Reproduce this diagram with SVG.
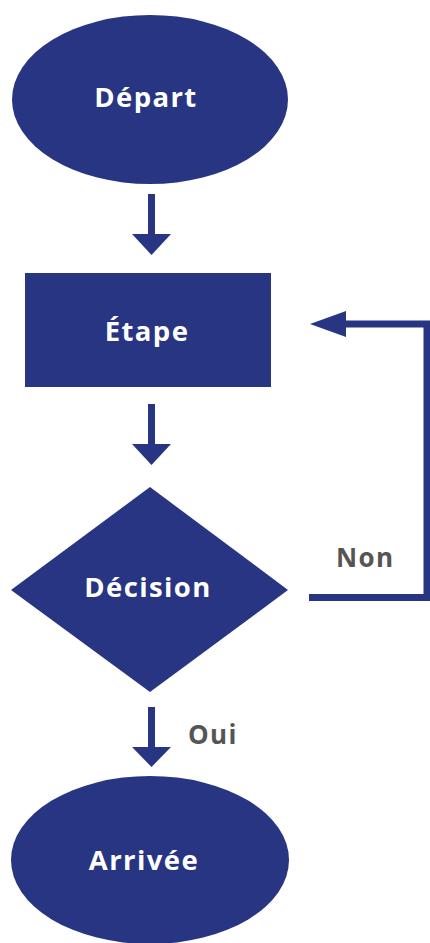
<svg xmlns="http://www.w3.org/2000/svg" width="430" height="943" viewBox="0 0 430 943">
<defs>
<style>
.n{fill:#283583}
.t{fill:#fff;font-family:"Open Sans","Liberation Sans",sans-serif;font-weight:700;font-size:27.5px;text-anchor:middle;letter-spacing:1.4px}
.l{fill:#555;font-family:"Open Sans","Liberation Sans",sans-serif;font-weight:700;font-size:26px;letter-spacing:1.4px}
.c{stroke:#283583;fill:none;stroke-width:7}
.h{fill:#283583}
</style>
</defs>
<rect width="430" height="943" fill="#fff"/>
<g id="depart"><ellipse class="n" cx="150" cy="99.5" rx="138" ry="84.5"/><text class="t" x="146" y="107">Départ</text></g>
<g id="etape"><rect class="n" x="25" y="273" width="246" height="114"/><text class="t" x="147" y="341">Étape</text></g>
<g id="decision"><polygon class="n" points="150,487 288,590 150,692 11,590"/><text class="t" x="148" y="597">Décision</text></g>
<g id="arrivee"><ellipse class="n" cx="150" cy="860" rx="139" ry="84"/><text class="t" x="144" y="870">Arrivée</text></g>
<g id="connectors">
<line class="c" x1="151.5" y1="194" x2="151.5" y2="236"/><polygon class="h" points="132,234 171,234 151.5,255"/>
<line class="c" x1="151.5" y1="404" x2="151.5" y2="446"/><polygon class="h" points="132,444 171,444 151.5,465"/>
<line class="c" x1="151.5" y1="707" x2="151.5" y2="749"/><polygon class="h" points="132,747 171,747 151.5,767"/>
<polyline class="c" points="309,597.5 427,597.5 427,324 344,324"/><polygon class="h" points="346,311 346,337 310,324"/>
<text class="l" x="336" y="567">Non</text>
<text class="l" x="188" y="744">Oui</text>
</g>
</svg>
